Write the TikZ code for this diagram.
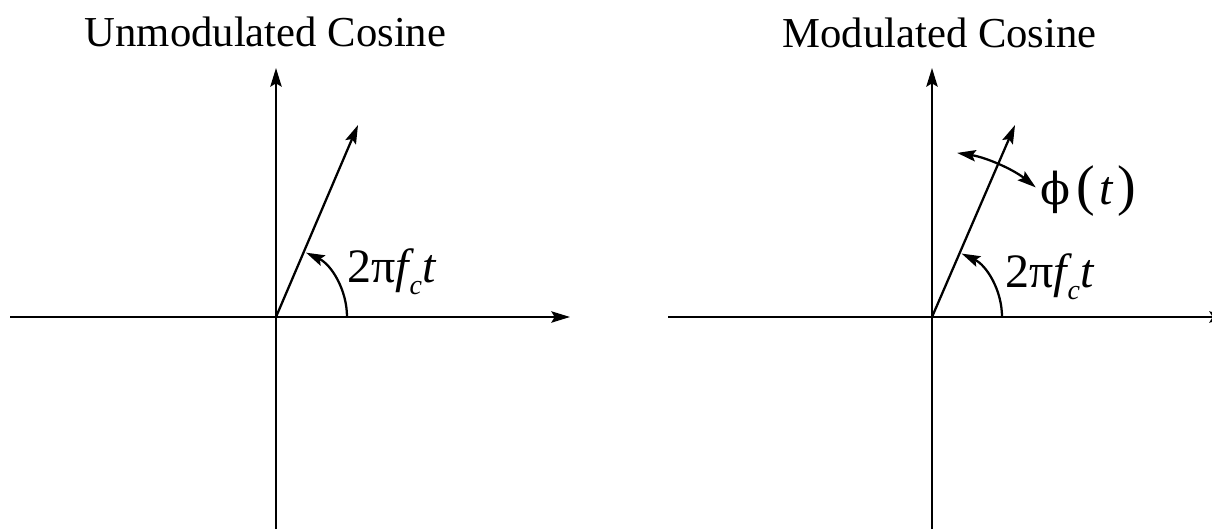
\documentclass[tikz,border=0pt]{standalone}
\usepackage{fontspec}
\setmainfont{Liberation Serif}
\newfontfamily\dvs{DejaVu Serif}
\usetikzlibrary{arrows.meta}
\begin{document}
\begin{tikzpicture}[x=0.75pt,y=0.75pt,
  ln/.style={line width=1.7pt},
  tip/.style={},
  arr/.style={ln,-{Stealth[length=14pt,width=8.5pt,inset=2.5pt]}},
  darr/.style={ln,{Stealth[length=14pt,width=8.5pt,inset=2.5pt]}-{Stealth[length=14pt,width=8.5pt,inset=2.5pt]}},
  title/.style={font=\fontsize{32}{38}\selectfont,anchor=base,inner sep=0pt},
  lbl/.style={font=\fontsize{36}{42}\selectfont,anchor=base west,inner sep=0pt}]
\useasboundingbox (0,0) rectangle (1212,529);
% left diagram
\coordinate (o1) at (276,212);
\coordinate (l1) at (10,212);
\coordinate (r1) at (570,212);
\coordinate (b1) at (276,0);
\coordinate (t1) at (276,461);
\coordinate (v1) at (358,404);
\draw[ln] (b1) -- (o1);
\draw[arr] (o1) -- (t1);
\draw[ln] (l1) -- (o1);
\draw[arr] (o1) -- (r1);
\draw[arr] (o1) -- (v1);
\draw[arr] ([shift={(0:71)}]o1) arc[start angle=0,end angle=65,radius=71];
\node[title] (tl) at (265.5,482) {Unmodulated Cosine};
\node[lbl] (al) at (347,247) {2π\textit{f}\kern-0.1em\raisebox{-0.25em}{\fontsize{21}{25}\selectfont\textit{c}}\kern0.02em\textit{t}};
% right diagram
\coordinate (o2) at (932,212);
\coordinate (l2) at (668,212);
\coordinate (r2) at (1228,212);
\coordinate (b2) at (932,0);
\coordinate (t2) at (932,461);
\coordinate (v2) at (1015,404);
\draw[ln] (b2) -- (o2);
\draw[arr] (o2) -- (t2);
\draw[ln] (l2) -- (o2);
\draw[arr] (o2) -- (r2);
\draw[arr] (o2) -- (v2);
\draw[arr] ([shift={(0:70)}]o2) arc[start angle=0,end angle=65,radius=70];
\draw[darr] ([shift={(81.3:166)}]o2) arc[start angle=81.3,end angle=51.3,radius=166];
\node[title] (tr) at (939.5,481) {Modulated Cosine};
\node[lbl] (ar) at (1005,242) {2π\textit{f}\kern-0.1em\raisebox{-0.25em}{\fontsize{21}{25}\selectfont\textit{c}}\kern0.02em\textit{t}};
\node[lbl] (ph) at (1040,325) {{\dvs\fontsize{33}{40}\selectfont ϕ}\kern5pt{\fontsize{42}{48}\selectfont(}\kern3pt\textit{t}\kern3pt{\fontsize{42}{48}\selectfont)}};
\end{tikzpicture}
\end{document}
